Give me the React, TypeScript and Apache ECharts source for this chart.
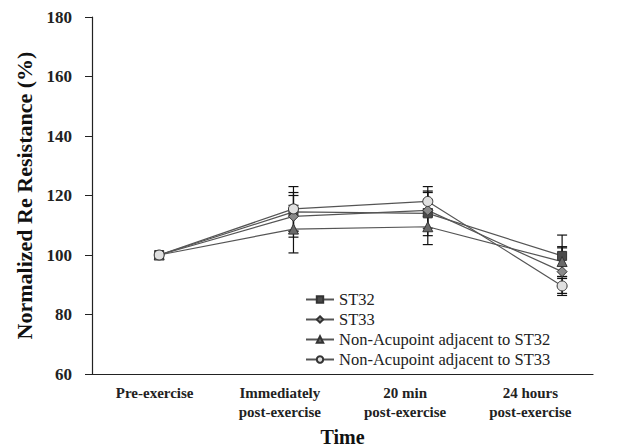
import React, { useEffect, useRef } from "react";
import * as echarts from "echarts";

const categories = ["Pre-exercise", "Immediately\npost-exercise", "20 min\npost-exercise", "24 hours\npost-exercise"];
const positions = [1, 2, 3, 4];
const seriesNames = ["ST32", "ST33", "Non-Acupoint adjacent to ST32", "Non-Acupoint adjacent to ST33"];
const st32 = [100, 114.5, 114, 99.7];
const st33 = [100, 113, 115, 94.4];
const nonST32 = [100, 108.7, 109.5, 97.8];
const nonST33 = [100, 115.5, 118, 89.6];
const st32Err = [0, 6.5, 7.5, 7];
const st33Err = [0, 7, 6, 8];
const nonST32Err = [0, 8, 6, 5];
const nonST33Err = [0, 7.5, 5, 2.5];
const yTicks = { min: 60, max: 180, interval: 20 };

const FONT = "Liberation Serif";

export default function App() {
  const ref = useRef<HTMLDivElement>(null);
  useEffect(() => {
    if (!ref.current) return;
    const chart = echarts.init(ref.current, null, { renderer: "svg" });
    const values = [st32, st33, nonST32, nonST33];
    const errs = [st32Err, st33Err, nonST32Err, nonST33Err];
    const symbols = ["rect", "diamond", "triangle", "circle"];
    const fills = ["#4a4a4a", "#8a8a8a", "#6a6a6a", "#e0e0e0"];
    const sizes = [9, 10, 10, 10];

    const errSeries = values.map((v, i) => ({
      type: "custom",
      xAxisIndex: 1,
      silent: true,
      z: 1,
      data: v
        .map((val, j) => [positions[j], val - errs[i][j], val + errs[i][j]])
        .filter((_, j) => errs[i][j] > 0),
      renderItem: (params: any, api: any) => {
        const x = api.value(0);
        const lo = api.coord([x, api.value(1)]);
        const hi = api.coord([x, api.value(2)]);
        const hw = 5;
        const style = { stroke: "#111", lineWidth: 1.2 };
        return {
          type: "group",
          children: [
            { type: "line", shape: { x1: lo[0], y1: lo[1], x2: hi[0], y2: hi[1] }, style },
            { type: "line", shape: { x1: lo[0] - hw, y1: lo[1], x2: lo[0] + hw, y2: lo[1] }, style },
            { type: "line", shape: { x1: hi[0] - hw, y1: hi[1], x2: hi[0] + hw, y2: hi[1] }, style },
          ],
        };
      },
    }));

    const lineSeries = values.map((v, i) => ({
      name: seriesNames[i],
      type: "line",
      xAxisIndex: 1,
      z: 3,
      data: v.map((val, j) => [positions[j], val]),
      symbol: symbols[i],
      symbolSize: sizes[i],
      lineStyle: { color: "#555", width: 1.2 },
      itemStyle: { color: fills[i], borderColor: "#333", borderWidth: 1 },
    }));

    chart.setOption({
      animation: false,
      backgroundColor: "#fff",
      grid: { left: 92, right: 41, top: 17, bottom: 72, containLabel: false, outerBoundsMode: "none" },
      legend: {
        orient: "vertical",
        left: 305,
        top: 291,
        padding: 0,
        itemGap: 3,
        itemWidth: 28,
        itemHeight: 8,
        data: seriesNames,
        textStyle: { fontFamily: FONT, fontSize: 16.5, color: "#222" },
      },
      xAxis: [
        {
          type: "category",
          data: categories,
          boundaryGap: true,
          position: "bottom",
          axisLine: { lineStyle: { color: "#222", width: 1.2 } },
          axisTick: { length: 5, lineStyle: { color: "#222" } },
          axisLabel: {
            fontFamily: FONT,
            fontWeight: "bold",
            fontSize: 15,
            color: "#222",
            lineHeight: 19,
            margin: 9,
          },
          name: "Time",
          nameLocation: "middle",
          nameGap: 45,
          nameTextStyle: { fontFamily: FONT, fontWeight: "bold", fontSize: 20, lineHeight: 22, color: "#111" },
        },
        {
          type: "value",
          min: 0.5,
          max: 4.23,
          show: false,
        },
      ],
      yAxis: {
        type: "value",
        min: yTicks.min,
        max: yTicks.max,
        interval: yTicks.interval,
        splitLine: { show: false },
        axisLine: { show: true, lineStyle: { color: "#222", width: 1.2 } },
        axisTick: { show: true, length: 7, lineStyle: { color: "#222" } },
        axisLabel: { fontFamily: FONT, fontWeight: "bold", fontSize: 17, color: "#222", margin: 20 },
        name: "Normalized Re Resistance (%)",
        nameLocation: "middle",
        nameGap: 52,
        nameTextStyle: { fontFamily: FONT, fontWeight: "bold", fontSize: 22, color: "#111" },
      },
      series: [...errSeries, ...lineSeries],
    });
    return () => chart.dispose();
  }, []);
  return <div ref={ref} style={{ width: 634, height: 446, position: "absolute", left: 0, top: 0 }} />;
}
